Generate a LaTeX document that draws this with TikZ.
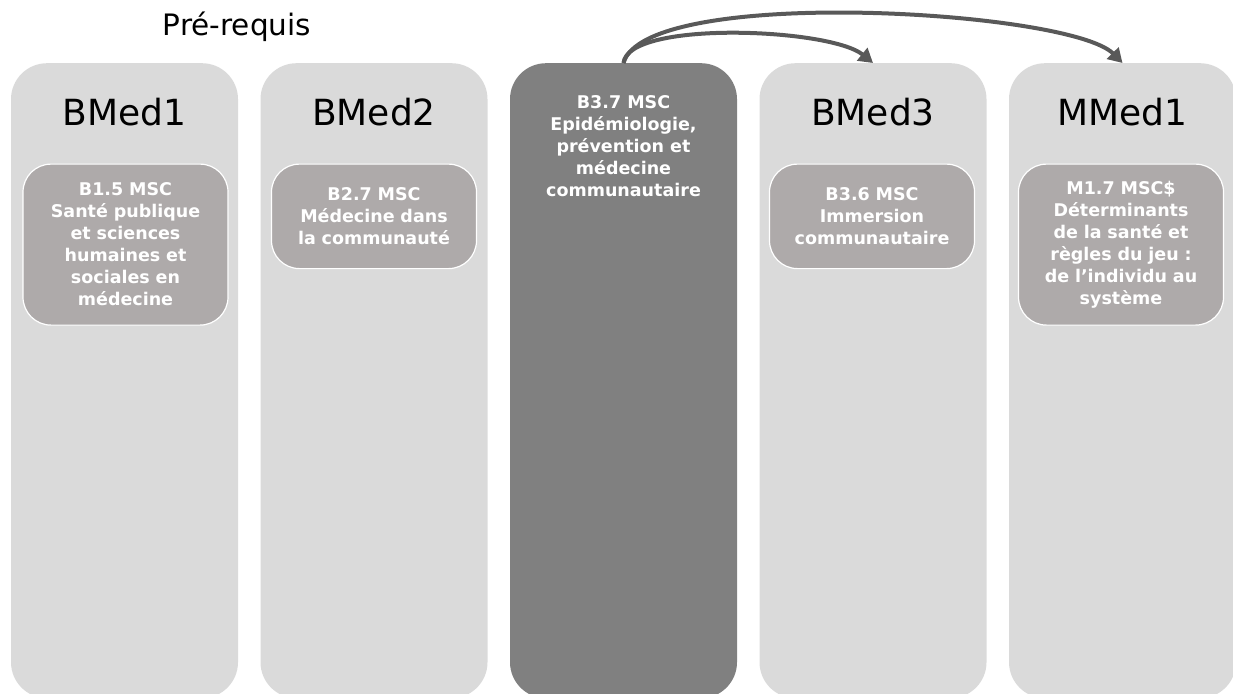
\documentclass[tikz,border=0pt]{standalone}
\usepackage{fontspec}
\setmainfont{DejaVu Sans}
\usetikzlibrary{arrows.meta}
\definecolor{colgray}{HTML}{DADADA}
\definecolor{darkcol}{HTML}{808080}
\definecolor{innergray}{HTML}{AEAAAA}
\definecolor{arrowgray}{HTML}{595959}
\tikzset{
  column/.style={fill=colgray, draw=none, rounded corners=36pt, minimum width=227pt, minimum height=635pt, inner sep=0pt, anchor=north},
  darkcolumn/.style={column, fill=darkcol},
  header/.style={font=\fontsize{36}{43}\selectfont, text=black, anchor=base, inner sep=0pt},
  course/.style={fill=innergray, draw=white, line width=1.2pt, rounded corners=28pt, minimum width=205pt, text width=195pt, align=center, text=white, font=\bfseries\fontsize{17.5}{22}\selectfont, anchor=north, inner sep=0pt},
  coursetext/.style={align=center, text=white, font=\bfseries\fontsize{17.5}{22}\selectfont, anchor=north, inner sep=0pt},
  link/.style={draw=arrowgray, line width=4pt, -{Triangle[width=16pt,length=14pt]}},
  title/.style={font=\fontsize{29.5}{35}\selectfont, text=black, anchor=base, inner sep=0pt}
}
\begin{document}
\begin{tikzpicture}[x=1pt,y=-1pt]
\useasboundingbox (0,0) rectangle (1233,693);
\clip (0,0) rectangle (1233,693);
\node[title] (pre) at (237,36) {Pré-requis};
% columns
\node[column] (c1) at (124.5,63) {};
\node[column] (c2) at (374,63) {};
\node[darkcolumn] (c3) at (623.5,63) {};
\node[column] (c4) at (873,63) {};
\node[column] (c5) at (1122.5,63) {};
% headers
\node[header] (h1) at (124.5,125) {BMed1};
\node[header] (h2) at (374,125) {BMed2};
\node[header] (h4) at (873,125) {BMed3};
\node[header] (h5) at (1122.5,125) {MMed1};
% courses
\node[course, minimum height=161pt] (k1) at (125.5,163.5) {B1.5 MSC\\Santé publique\\et sciences\\humaines et\\sociales en\\médecine};
\node[course, minimum height=104.5pt] (k2) at (374,163.5) {B2.7 MSC\\Médecine dans\\la communauté};
\node[coursetext] (k3) at (623.5,95.5) {B3.7 MSC\\Epidémiologie,\\prévention et\\médecine\\communautaire};
\node[course, minimum height=104.5pt] (k4) at (872,163.5) {B3.6 MSC\\Immersion\\communautaire};
\node[course, minimum height=161pt] (k5) at (1121,163.5) {M1.7 MSC\$\\Déterminants\\de la santé et\\règles du jeu :\\de l’individu au\\système};
% arrows
\draw[link] (c3.north) .. controls (628,20) and (830,28) .. (c4.north);
\draw[link] (c3.north) .. controls (645,-15) and (1070,10) .. (c5.north);
\end{tikzpicture}
\end{document}
